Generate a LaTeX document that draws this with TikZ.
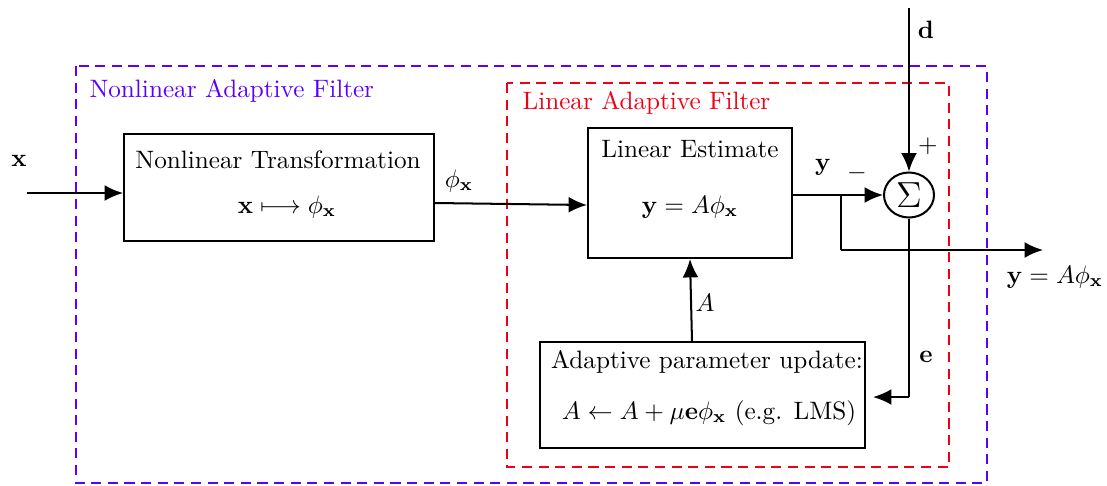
\documentclass[tikz,border=0pt]{standalone}
\usetikzlibrary{arrows.meta,shapes.geometric}
\definecolor{nafcol}{RGB}{90,0,255}
\definecolor{lafcol}{RGB}{240,0,20}
\def\u{0.397pt}
\begin{document}
\begin{tikzpicture}[x=\u,y=-\u,
  blk/.style={draw,line width=0.8pt,inner sep=0pt},
  conn/.style={line width=0.8pt,-{Latex[length=7.3pt,width=6.3pt]}},
  plain/.style={line width=0.8pt},
  frame/.style={line width=0.8pt,dash pattern=on 4pt off 2.6pt},
  lbl/.style={inner sep=0pt,anchor=base}]
\useasboundingbox (0,0) rectangle (1107,485);
% frames
\draw[frame,nafcol] (76,66) rectangle (987,483);
\node[lbl,nafcol,anchor=base west] (naflbl) at (89,97) {Nonlinear Adaptive Filter};
\draw[frame,lafcol] (507,83) rectangle (949,467);
\node[lbl,lafcol,anchor=base west] (laflbl) at (522,109) {Linear Adaptive Filter};
% blocks
\node[blk,minimum width=310*\u,minimum height=107*\u] (nt) at (279,187.5) {};
\node[lbl] (nt1) at (278,168) {Nonlinear Transformation};
\node[lbl] (nt2) at (287,213) {$\mathbf{x}\longmapsto\phi_{\mathbf{x}}$};
\node[blk,minimum width=204*\u,minimum height=130*\u] (le) at (690,193) {};
\node[lbl] (le1) at (690,157) {Linear Estimate};
\node[lbl] (le2) at (690,213) {$\mathbf{y}=A\phi_{\mathbf{x}}$};
\node[blk,minimum width=325*\u,minimum height=106*\u] (apu) at (702.5,395) {};
\node[lbl] (apu1) at (707,368) {Adaptive parameter update:};
\node[lbl] (apu2) at (709,419) {$A\leftarrow A+\mu\mathbf{e}\phi_{\mathbf{x}}$ (e.g. LMS)};
\node[draw,ellipse,line width=0.8pt,minimum width=50*\u,minimum height=45*\u,inner sep=0pt,font=\Large] (sig) at (909,195) {$\Sigma$};
% coordinates
\coordinate (xin) at (27,193);
\coordinate (din) at (909,8);
\coordinate (br) at (841,196);
\coordinate (brd) at (841,250);
\coordinate (yout) at (1043,250);
\coordinate (ecorner) at (909,397);
\coordinate (eend) at (873,397);
% connectors
\draw[conn] (xin) -- (nt.west |- xin);
\draw[conn] (nt.east |- 0,203) -- (le.west |- 0,205);
\draw[conn] (le.east |- 0,195) -- (sig.west);
\draw[conn] (din) -- (sig.north);
\draw[plain] (br) -- (brd);
\draw[conn] (brd) -- (yout);
\draw[plain] (sig.south) -- (ecorner);
\draw[conn] (ecorner) -- (eend);
\draw[conn] (apu.north -| 692,0) -- (le.south -| 690,0);
% labels
\node[lbl] (xl) at (19,166) {$\mathbf{x}$};
\node[lbl] (phil) at (459,187) {$\phi_{\mathbf{x}}$};
\node[lbl] (yl) at (823,170) {$\mathbf{y}$};
\node[lbl] (minus) at (857,179) {$-$};
\node[lbl] (plus) at (928,152) {$+$};
\node[lbl] (dl) at (926,38) {$\mathbf{d}$};
\node[lbl] (el) at (926,362) {$\mathbf{e}$};
\node[lbl] (al) at (705,311) {$A$};
\node[lbl] (youtl) at (1055,283) {$\mathbf{y}=A\phi_{\mathbf{x}}$};
\end{tikzpicture}
\end{document}
